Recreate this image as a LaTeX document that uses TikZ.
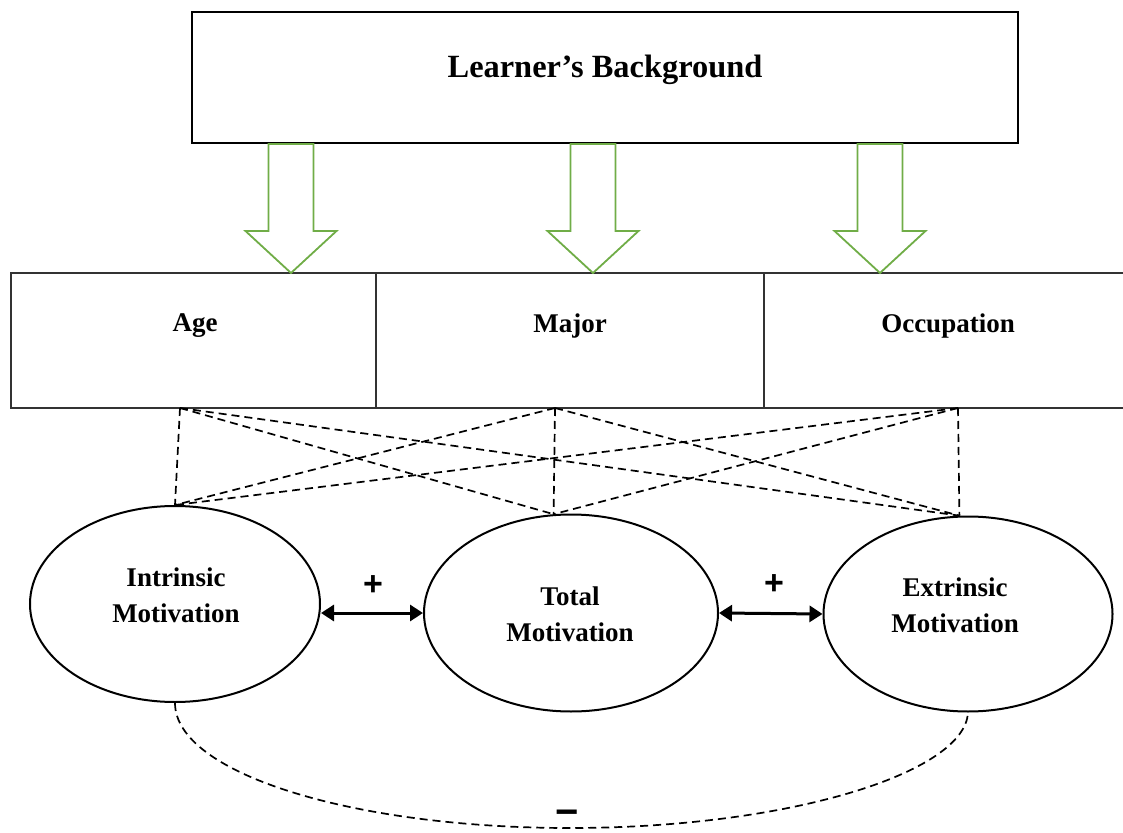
\documentclass[tikz,border=0pt]{standalone}
\usepackage{fontspec}
\setmainfont{Liberation Serif}
\newfontfamily\signfont{Liberation Sans}
\usetikzlibrary{shapes.geometric,arrows.meta}

\definecolor{flowgreen}{RGB}{112,173,71}

\begin{document}
\begin{tikzpicture}[x=0.5pt,y=-0.5pt,
                    bgbox/.style={draw=black,line width=1.1pt,minimum width=413pt,minimum height=65.5pt,inner sep=0pt},
                    cell/.style={draw=black!80,line width=0.6pt,minimum height=67.5pt,inner sep=0pt},
                    motiv/.style={ellipse,draw=black,line width=1pt,inner sep=0pt},
                    motivtext/.style={align=center,font=\fontsize{13.5}{18}\selectfont\bfseries},
                    lbl/.style={font=\fontsize{13.5}{16}\selectfont\bfseries},
                    sign/.style={font=\fontsize{17}{20}\selectfont\signfont\bfseries,inner sep=0pt},
                    link/.style={dash pattern=on 4pt off 2.5pt,line width=0.85pt},
                    both/.style={{Triangle[length=6.5pt,width=8pt]}-{Triangle[length=6.5pt,width=8pt]},line width=1.5pt},
                    flow/.style={draw=flowgreen,line width=0.9pt,fill=white}]
    \useasboundingbox (0,0) rectangle (1123,833);
    % background and its three parts
    \node (bg) at (605,77.5) [bgbox] {};
    \node (bgtext) at (605,70) [font=\fontsize{16.2}{20}\selectfont\bfseries] {Learner’s Background};
    \node (age) at (193.5,340.5) [cell,minimum width=182.5pt] {};
    \node (major) at (570,340.5) [cell,minimum width=194pt] {};
    \node (occ) at (949.5,340.5) [cell,minimum width=185.5pt] {};
    \node (agetext) at (195,326) [lbl] {Age};
    \node (majortext) at (570,326) [lbl] {Major};
    \node (occtext) at (948,326) [lbl] {Occupation};
    % green block arrows
    \foreach \x in {291,593,880}
        \draw[flow] (\x-22.5,144) -- (\x+22.5,144) -- (\x+22.5,231) -- (\x+45.5,231)
                    -- (\x,273) -- (\x-45.5,231) -- (\x-22.5,231) -- cycle;
    % motivation
    \node (intr) at (175,604) [motiv,minimum width=145pt,minimum height=98pt] {};
    \node (tot) at (571,613) [motiv,minimum width=147pt,minimum height=98.5pt] {};
    \node (extr) at (968,614) [motiv,minimum width=144.5pt,minimum height=97.5pt] {};
    \node (intrtext) at (176,595) [motivtext] {Intrinsic\\Motivation};
    \node (tottext) at (570,614) [motivtext] {Total\\Motivation};
    \node (extrtext) at (955,605) [motivtext] {Extrinsic\\Motivation};
    \draw[both] (intr.east |- tot.west) -- (tot.west);
    \draw[both] (tot.east) -- (extr.west);
    \node (plusa) at (373,586) [sign] {+};
    \node (plusb) at (774,585) [sign] {+};
    % dashed links
    \coordinate (agept) at (180,408);
    \coordinate (majorpt) at (555,408);
    \coordinate (occpt) at (958,408);
    \foreach \from in {agept,majorpt,occpt}
        \foreach \to in {intr.north,tot.100,extr.95}
            \draw[link] (\from) -- (\to);
    \draw[link] (intr.south) .. controls (175,773) and (352,828) .. (570,828)
                .. controls (788,828) and (965,773) .. (extr.south);
    \node (minus) at (567,818) [sign,font=\fontsize{20}{22}\selectfont\signfont\bfseries] {−};
\end{tikzpicture}
\end{document}
